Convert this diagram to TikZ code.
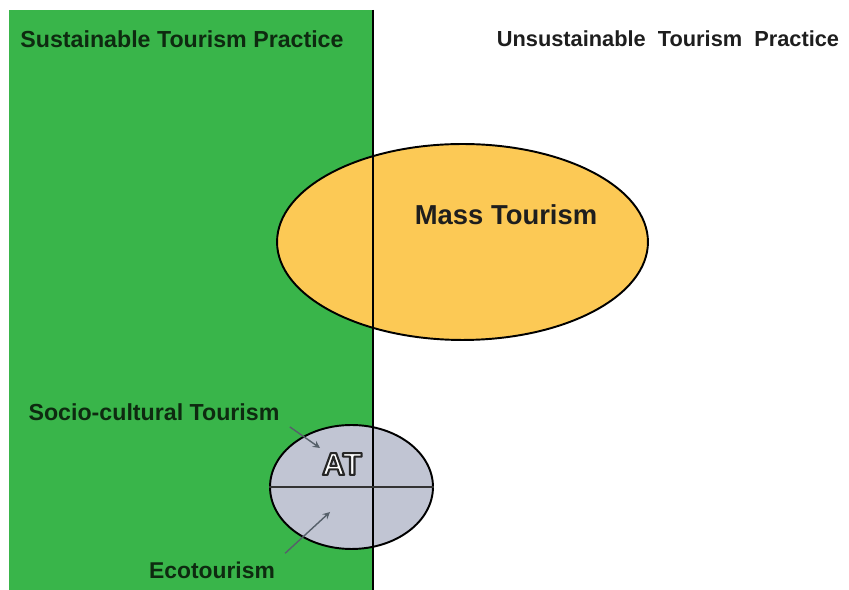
\documentclass[tikz,border=0pt]{standalone}
\usepackage{fontspec}
\setmainfont{Liberation Sans}
\usetikzlibrary{arrows,positioning,shapes.geometric}
\definecolor{cGreenF}{HTML}{39B54A}
\definecolor{cGreenT}{HTML}{0E2A10}
\definecolor{cAmberF}{HTML}{FCC955}
\definecolor{cGrayF}{HTML}{C1C5D3}
\definecolor{cGrayT}{HTML}{1E1E1E}
\definecolor{cArrow}{HTML}{56606A}
% outlined letters: fill white, stroke dark
\newcommand{\outlined}[1]{\special{pdf:code q 2 Tr 1.2 w 1 j 0.15 0.15 0.15 RG}#1\special{pdf:code Q}}
\tikzset{
  sidelbl/.style = {font=\bfseries\fontsize{13.2}{15}\selectfont, text=cGreenT, inner sep=0pt},
  oval/.style    = {ellipse, draw=black, line width=1.1pt, inner sep=0pt},
  pointer/.style = {cArrow, line width=0.8pt, -stealth},
}

\begin{document}
\begin{tikzpicture}[x=0.02cm, y=-0.02cm]
  \useasboundingbox (0,0) rectangle (849,590);
  \fill[cGreenF] (9,10) rectangle (372,590);
  \node[sidelbl] (sus) at (182,39) {Sustainable Tourism Practice};
  \node[sidelbl, text=cGrayT, font=\bfseries\fontsize{12.4}{15}\selectfont] (unsus) at (668,39)
    {Unsustainable\ \ Tourism\ \ Practice};
  \node[oval, fill=cAmberF, minimum width=7.42cm, minimum height=3.92cm] (mass) at (462.5,242) {};
  \node[oval, fill=cGrayF, minimum width=3.26cm, minimum height=2.48cm] (alt) at (351.5,487) {};
  % dividing line between the two practices
  \coordinate (divtop) at (373,10);
  \coordinate (divbot) at (373,590);
  \draw[black, line width=0.9pt] (divtop) -- (divbot);
  \draw[black!80, line width=1pt] (alt.west) -- (alt.east);
  \node[font=\bfseries\fontsize{15.6}{17}\selectfont, text=cGrayT] (masslbl) at (506,215) {Mass Tourism};
  \node[font=\bfseries\fontsize{18}{19}\selectfont, text=white, inner sep=0pt] (atlbl) at (342,464)
    {\outlined{AT}};
  \node[sidelbl] (socio) at (154,412) {Socio-cultural Tourism};
  \node[sidelbl, font=\bfseries\fontsize{13}{15}\selectfont] (eco) at (212,570) {Ecotourism};
  \coordinate (sociotip) at (320,448);
  \coordinate (ecotip) at (330,512);
  \draw[pointer] (socio.south east) ++(10,6) -- (sociotip);
  \draw[pointer] (eco.north east) ++(10,-8) -- (ecotip);
\end{tikzpicture}
\end{document}
